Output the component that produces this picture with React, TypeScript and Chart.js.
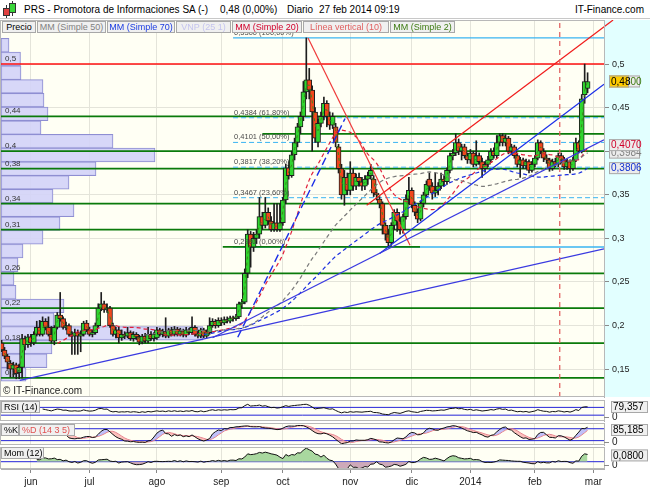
import React, { useEffect, useRef } from "react";
import { Chart, registerables } from "chart.js";

Chart.register(...registerables);

const FONT = '"Liberation Sans", Arial, Helvetica, sans-serif';

// ---------- axes ----------
const monthIdx = [10, 30, 53, 75, 96, 119, 140, 160, 182, 202];
const monthLabels = ["jun", "jul", "ago", "sep", "oct", "nov", "dic", "2014", "feb", "mar"];
const X_MIN = -0.2;
const X_MAX = 205.6;
const priceTicks = [0.15, 0.2, 0.25, 0.3, 0.35, 0.4, 0.45, 0.5];
const Y_MIN = 0.1181;
const Y_MAX = 0.5505;

// ---------- daily candles (trading-day index 0..200) ----------
const opens = [
  0.180, 0.172, 0.165, 0.157, 0.150, 0.155, 0.146, 0.152, 0.185, 0.178,
  0.187, 0.180, 0.190, 0.198, 0.190, 0.205, 0.198, 0.190, 0.182, 0.198,
  0.212, 0.208, 0.198, 0.200, 0.190, 0.188, 0.192, 0.188, 0.190, 0.203,
  0.195, 0.190, 0.192, 0.200, 0.220, 0.225, 0.218, 0.220, 0.200, 0.190,
  0.195, 0.186, 0.190, 0.188, 0.192, 0.185, 0.190, 0.187, 0.181, 0.188,
  0.182, 0.190, 0.185, 0.186, 0.195, 0.190, 0.193, 0.188, 0.195, 0.190,
  0.196, 0.190, 0.194, 0.189, 0.195, 0.192, 0.198, 0.190, 0.188, 0.195,
  0.188, 0.192, 0.200, 0.205, 0.200, 0.206, 0.203, 0.207, 0.205, 0.209,
  0.208, 0.210, 0.225, 0.227, 0.260, 0.305, 0.290, 0.300, 0.305, 0.325,
  0.315, 0.330, 0.320, 0.310, 0.318, 0.310, 0.318, 0.344, 0.381, 0.372,
  0.396, 0.410, 0.428, 0.440, 0.468, 0.482, 0.470, 0.445, 0.410, 0.432,
  0.440, 0.455, 0.440, 0.430, 0.428, 0.405, 0.380, 0.350, 0.370, 0.355,
  0.375, 0.360, 0.370, 0.365, 0.360, 0.368, 0.372, 0.368, 0.352, 0.345,
  0.340, 0.315, 0.305, 0.295, 0.315, 0.330, 0.320, 0.310, 0.325, 0.345,
  0.355, 0.338, 0.330, 0.322, 0.340, 0.350, 0.368, 0.360, 0.352, 0.355,
  0.360, 0.368, 0.365, 0.378, 0.395, 0.398, 0.410, 0.400, 0.405, 0.395,
  0.390, 0.398, 0.385, 0.395, 0.388, 0.380, 0.385, 0.390, 0.400, 0.395,
  0.410, 0.418, 0.410, 0.415, 0.400, 0.405, 0.395, 0.385, 0.390, 0.383,
  0.388, 0.378, 0.385, 0.392, 0.410, 0.400, 0.392, 0.390, 0.380, 0.388,
  0.385, 0.395, 0.390, 0.382, 0.388, 0.380, 0.390, 0.410, 0.400, 0.465,
  0.472,
];
const highs = [
  0.183, 0.175, 0.167, 0.160, 0.158, 0.157, 0.156, 0.190, 0.188, 0.190,
  0.190, 0.193, 0.205, 0.206, 0.210, 0.208, 0.210, 0.199, 0.200, 0.215,
  0.238, 0.210, 0.204, 0.202, 0.193, 0.196, 0.195, 0.194, 0.205, 0.206,
  0.198, 0.195, 0.203, 0.225, 0.238, 0.228, 0.225, 0.222, 0.203, 0.198,
  0.198, 0.195, 0.193, 0.198, 0.194, 0.193, 0.192, 0.189, 0.190, 0.191,
  0.198, 0.193, 0.192, 0.198, 0.197, 0.196, 0.209, 0.197, 0.198, 0.199,
  0.198, 0.197, 0.196, 0.198, 0.197, 0.210, 0.200, 0.193, 0.197, 0.197,
  0.195, 0.209, 0.208, 0.207, 0.209, 0.209, 0.210, 0.210, 0.211, 0.211,
  0.213, 0.227, 0.230, 0.265, 0.310, 0.308, 0.307, 0.310, 0.347, 0.330,
  0.347, 0.335, 0.325, 0.340, 0.340, 0.340, 0.347, 0.385, 0.388, 0.400,
  0.415, 0.432, 0.445, 0.480, 0.530, 0.495, 0.475, 0.450, 0.437, 0.445,
  0.462, 0.458, 0.445, 0.444, 0.432, 0.408, 0.385, 0.378, 0.375, 0.388,
  0.380, 0.374, 0.375, 0.370, 0.372, 0.376, 0.385, 0.372, 0.356, 0.348,
  0.342, 0.318, 0.310, 0.318, 0.333, 0.334, 0.324, 0.328, 0.350, 0.370,
  0.358, 0.342, 0.334, 0.343, 0.353, 0.366, 0.375, 0.364, 0.375, 0.364,
  0.375, 0.372, 0.381, 0.398, 0.402, 0.420, 0.414, 0.408, 0.408, 0.398,
  0.402, 0.400, 0.412, 0.398, 0.392, 0.388, 0.394, 0.403, 0.404, 0.418,
  0.420, 0.420, 0.419, 0.417, 0.408, 0.407, 0.398, 0.393, 0.392, 0.391,
  0.390, 0.388, 0.395, 0.413, 0.412, 0.403, 0.396, 0.392, 0.391, 0.392,
  0.398, 0.398, 0.393, 0.391, 0.390, 0.393, 0.415, 0.412, 0.465, 0.500,
  0.490,
];
const lows = [
  0.170, 0.162, 0.150, 0.141, 0.141, 0.139, 0.139, 0.140, 0.172, 0.175,
  0.176, 0.178, 0.188, 0.188, 0.188, 0.195, 0.188, 0.180, 0.178, 0.196,
  0.205, 0.196, 0.195, 0.188, 0.167, 0.167, 0.167, 0.170, 0.188, 0.193,
  0.188, 0.187, 0.190, 0.198, 0.217, 0.215, 0.215, 0.198, 0.188, 0.186,
  0.180, 0.183, 0.185, 0.186, 0.183, 0.182, 0.184, 0.178, 0.179, 0.180,
  0.180, 0.183, 0.182, 0.184, 0.188, 0.187, 0.186, 0.186, 0.188, 0.188,
  0.188, 0.188, 0.187, 0.187, 0.190, 0.190, 0.188, 0.186, 0.186, 0.186,
  0.186, 0.190, 0.198, 0.197, 0.198, 0.200, 0.201, 0.203, 0.203, 0.205,
  0.206, 0.208, 0.220, 0.225, 0.255, 0.267, 0.285, 0.294, 0.300, 0.310,
  0.312, 0.316, 0.308, 0.308, 0.308, 0.308, 0.315, 0.340, 0.368, 0.370,
  0.390, 0.405, 0.420, 0.435, 0.460, 0.460, 0.400, 0.410, 0.405, 0.428,
  0.436, 0.428, 0.425, 0.426, 0.405, 0.375, 0.345, 0.338, 0.350, 0.350,
  0.355, 0.356, 0.360, 0.355, 0.356, 0.362, 0.368, 0.348, 0.344, 0.335,
  0.305, 0.298, 0.2902, 0.292, 0.310, 0.308, 0.305, 0.306, 0.322, 0.340,
  0.335, 0.326, 0.318, 0.320, 0.336, 0.348, 0.355, 0.345, 0.348, 0.350,
  0.357, 0.360, 0.362, 0.375, 0.390, 0.395, 0.396, 0.390, 0.392, 0.386,
  0.386, 0.382, 0.383, 0.385, 0.370, 0.376, 0.382, 0.387, 0.392, 0.392,
  0.406, 0.406, 0.406, 0.397, 0.396, 0.392, 0.382, 0.370, 0.380, 0.380,
  0.375, 0.376, 0.382, 0.390, 0.397, 0.388, 0.386, 0.377, 0.378, 0.382,
  0.382, 0.386, 0.379, 0.379, 0.375, 0.378, 0.388, 0.398, 0.398, 0.455,
  0.467,
];
const closes = [
  0.172, 0.165, 0.158, 0.150, 0.155, 0.145, 0.152, 0.185, 0.178, 0.187,
  0.180, 0.190, 0.198, 0.190, 0.205, 0.198, 0.190, 0.182, 0.198, 0.212,
  0.208, 0.198, 0.200, 0.190, 0.188, 0.192, 0.188, 0.190, 0.203, 0.195,
  0.190, 0.192, 0.200, 0.220, 0.225, 0.218, 0.220, 0.200, 0.190, 0.195,
  0.186, 0.190, 0.188, 0.192, 0.185, 0.190, 0.187, 0.181, 0.188, 0.182,
  0.190, 0.185, 0.190, 0.195, 0.190, 0.193, 0.188, 0.195, 0.190, 0.196,
  0.190, 0.194, 0.189, 0.195, 0.192, 0.198, 0.190, 0.188, 0.195, 0.188,
  0.192, 0.200, 0.205, 0.200, 0.206, 0.203, 0.207, 0.205, 0.209, 0.208,
  0.210, 0.225, 0.227, 0.260, 0.305, 0.290, 0.300, 0.305, 0.325, 0.315,
  0.330, 0.320, 0.310, 0.318, 0.310, 0.318, 0.344, 0.381, 0.372, 0.396,
  0.410, 0.428, 0.440, 0.468, 0.482, 0.470, 0.445, 0.415, 0.432, 0.440,
  0.455, 0.440, 0.430, 0.440, 0.410, 0.380, 0.350, 0.370, 0.355, 0.375,
  0.360, 0.370, 0.365, 0.360, 0.368, 0.372, 0.378, 0.352, 0.350, 0.340,
  0.315, 0.305, 0.295, 0.315, 0.330, 0.320, 0.310, 0.325, 0.345, 0.355,
  0.338, 0.330, 0.322, 0.340, 0.350, 0.362, 0.360, 0.352, 0.355, 0.360,
  0.368, 0.365, 0.378, 0.395, 0.398, 0.410, 0.400, 0.405, 0.395, 0.390,
  0.398, 0.385, 0.395, 0.388, 0.380, 0.385, 0.390, 0.400, 0.395, 0.410,
  0.418, 0.410, 0.415, 0.400, 0.405, 0.395, 0.385, 0.390, 0.383, 0.388,
  0.378, 0.385, 0.392, 0.410, 0.400, 0.392, 0.390, 0.380, 0.388, 0.385,
  0.395, 0.390, 0.382, 0.388, 0.380, 0.390, 0.410, 0.400, 0.460, 0.480,
  0.480,
];

// ---------- volume by price (VNP 25 1) ----------
const vnpPrices = [
  0.5215, 0.5058, 0.49, 0.4743, 0.4586, 0.4429, 0.4271, 0.4114, 0.3957, 0.3799,
  0.3642, 0.3485, 0.3327, 0.317, 0.3013, 0.2855, 0.2698, 0.2541, 0.2383, 0.2226,
  0.2069, 0.1911, 0.1754, 0.1597, 0.144,
];
const vnpVolumes = [
  8, 19.5, 20, 42, 43, 47, 40, 112, 154, 95,
  68, 52, 73, 59, 42, 22, 17, 13, 15, 63,
  53, 202, 51, 46, 25,
];

// ---------- horizontal levels ----------
const greenLevels = [0.44, 0.4, 0.38, 0.34, 0.31, 0.26, 0.22, 0.18, 0.14];
const greenLabels = ["0,44", "0,4", "0,38", "0,34", "0,31", "0,26", "0,22", "0,18", "0,14"];
const redLevel = 0.5;
const redLabel = "0,5";
const partialLevel = 0.42;
const partialFrom = 89;
const fibStart = 79;
const fibLevels = [0.53, 0.4384, 0.4101, 0.3817, 0.3467, 0.2902];
const fibLabels = ["0,5300 (100,00%)", "0,4384 (61,80%)", "0,4101 (50,00%)", "0,3817 (38,20%)", "0,3467 (23,60%)", "0,2902 (0,00%)"];
const fibZeroGreen = [75.5, 142.8];

// ---------- trend lines [x1, y1, x2, y2] ----------
const blueTrendLong = [6.2, 0.1372, 205.6, 0.2881];
const blueTrendMid = [72, 0.186, 205.6, 0.413];
const blueTrendSteep = [129, 0.2826, 205.6, 0.4769];
const blueTrendDashed = [80.6, 0.1866, 117.2, 0.4374];
const redTrendDown = [104.6, 0.5298, 139.4, 0.2922];
const redTrendUp = [124.6, 0.3381, 208.7, 0.5505];
const verticalLineIdx = 190.5;

// ---------- right-hand value labels ----------
const priceLabelValues = [0.48, 0.48, 0.3984, 0.407, 0.3806];
const priceLabelTexts = ["0,4800", "0,48", "0,3984", "0,4070", "0,3806"];
const priceLabelColors = ["#3c7a10", "#000000", "#808080", "#d0002a", "#1030d0"];
const priceLabelBgs = ["#ececec", "#ffcc00", "#ececec", "#ececec", "#ececec"];
const priceLabelWidths = [31, 20, 31, 31, 31];
const rsiValueText = "79,357";
const stochValueText = "85,185";
const momValueText = "0,0800";
const panelZeroLabel = "0";

// ---------- helpers ----------
function sma(src: (number | null)[], n: number): (number | null)[] {
  return src.map((_, i) => {
    if (i < n - 1) return null;
    let s = 0;
    for (let j = i - n + 1; j <= i; j++) {
      const v = src[j];
      if (v == null) return null;
      s += v;
    }
    return s / n;
  });
}
function rsi(c: number[], n: number): (number | null)[] {
  const out: (number | null)[] = c.map(() => null);
  let g = 0, l = 0;
  for (let i = 1; i <= n; i++) {
    const d = c[i] - c[i - 1];
    if (d > 0) g += d; else l -= d;
  }
  g /= n; l /= n;
  out[n] = l === 0 ? 100 : 100 - 100 / (1 + g / l);
  for (let i = n + 1; i < c.length; i++) {
    const d = c[i] - c[i - 1];
    g = (g * (n - 1) + Math.max(d, 0)) / n;
    l = (l * (n - 1) + Math.max(-d, 0)) / n;
    out[i] = l === 0 ? 100 : 100 - 100 / (1 + g / l);
  }
  return out;
}
function stochRaw(c: number[], h: number[], l: number[], n: number): (number | null)[] {
  return c.map((v, i) => {
    if (i < n - 1) return null;
    let hh = -Infinity, ll = Infinity;
    for (let j = i - n + 1; j <= i; j++) { hh = Math.max(hh, h[j]); ll = Math.min(ll, l[j]); }
    return hh === ll ? 50 : (100 * (v - ll)) / (hh - ll);
  });
}
function pts(arr: (number | null)[], from = 0) {
  const out: { x: number; y: number }[] = [];
  arr.forEach((v, i) => { if (v != null && i >= from) out.push({ x: i, y: v }); });
  return out;
}
function seg(a: number[]) {
  return [{ x: a[0], y: a[1] }, { x: a[2], y: a[3] }];
}
function lineDs(data: any[], color: string, width: number, dash: number[], order: number, extra: any = {}) {
  return {
    type: "line", data, borderColor: color, borderWidth: width, borderDash: dash,
    pointRadius: 0, fill: false, tension: 0, order, ...extra,
  };
}
function fmtComma(v: number) { return String(v).replace(".", ","); }

function drawBox(ctx: CanvasRenderingContext2D, x: number, cy: number, w: number, text: string, color: string, bg: string) {
  const h = 12;
  ctx.fillStyle = bg;
  ctx.fillRect(x, cy - h / 2, w, h);
  ctx.strokeStyle = "#a8a8a8";
  ctx.lineWidth = 1;
  ctx.strokeRect(x + 0.5, cy - h / 2 + 0.5, w - 1, h - 1);
  ctx.fillStyle = color;
  ctx.font = `10px ${FONT}`;
  ctx.textAlign = "left";
  ctx.textBaseline = "middle";
  ctx.fillText(text, x + 2, cy + 0.5);
}

const noPadY = (s: any) => { s.width = 46; s.paddingTop = 0; s.paddingBottom = 0; };

const xScaleBase = (showLabels: boolean) => ({
  type: "linear",
  min: X_MIN,
  max: X_MAX,
  offset: false,
  afterBuildTicks: (s: any) => { s.ticks = monthIdx.map((v) => ({ value: v })); },
  afterFit: (s: any) => { s.height = showLabels ? 21 : 0; s.paddingLeft = 0; s.paddingRight = 0; },
  ticks: {
    display: showLabels,
    autoSkip: false,
    maxRotation: 0,
    padding: 3,
    color: "#222",
    font: { size: 10 },
    callback: (v: number) => monthLabels[monthIdx.indexOf(v)] ?? "",
  },
  grid: { color: "#e4e4da", drawTicks: showLabels, tickLength: 4, tickColor: "#888", offset: false },
  border: { display: showLabels, color: "#b0b0b0" },
});

export default function App() {
  const mainRef = useRef<HTMLCanvasElement>(null);
  const rsiRef = useRef<HTMLCanvasElement>(null);
  const stoRef = useRef<HTMLCanvasElement>(null);
  const momRef = useRef<HTMLCanvasElement>(null);

  useEffect(() => {
    document.body.style.margin = "0";
    document.body.style.background = "#ffffff";
    Chart.defaults.font.family = FONT;
    const charts: Chart[] = [];

    // ---------- main price chart ----------
    const idx = closes.map((_, i) => i);
    const wicks = idx.map((i) => ({ x: i, y: [lows[i], highs[i]] }));
    const bodies = idx.map((i) => ({ x: i, y: [opens[i], closes[i]] }));
    const bodyColors = idx.map((i) => (closes[i] >= opens[i] ? "#2fd62f" : "#f2461c"));
    const vnp = vnpPrices.map((p, k) => ({ x: vnpVolumes[k], y: p }));

    const datasets: any[] = [];
    datasets.push({
      type: "bar", indexAxis: "y", xAxisID: "xVol", yAxisID: "y", data: vnp,
      backgroundColor: "rgba(212,212,247,0.92)", borderColor: "#8e8ed2", borderWidth: 1,
      borderSkipped: false, barThickness: 13.7, grouped: false, order: 100,
    });
    greenLevels.forEach((lv) => datasets.push(lineDs(seg([X_MIN, lv, X_MAX, lv]), "#0a7a0a", 1.7, [], 60)));
    datasets.push(lineDs(seg([partialFrom, partialLevel, X_MAX, partialLevel]), "#0a7a0a", 1.7, [], 60));
    datasets.push(lineDs(seg([X_MIN, redLevel, X_MAX, redLevel]), "#ff1010", 1.4, [], 60));
    fibLevels.forEach((lv, k) => {
      const solid = k === 0 || k === fibLevels.length - 1;
      datasets.push(lineDs(seg([fibStart, lv, X_MAX, lv]), "#3ab4f2", solid ? 1.4 : 1, solid ? [] : [5, 3], 59));
    });
    datasets.push(lineDs(seg([fibZeroGreen[0], 0.2902, fibZeroGreen[1], 0.2902]), "#0a7a0a", 1.7, [], 58));
    datasets.push({
      type: "bar", xAxisID: "x", yAxisID: "y", data: wicks, backgroundColor: "#1e1e1e",
      borderWidth: 0, barThickness: 1, grouped: false, order: 45,
    });
    datasets.push({
      type: "bar", xAxisID: "x", yAxisID: "y", data: bodies, backgroundColor: bodyColors,
      borderColor: "#1e1e1e", borderWidth: 1, borderSkipped: false, barThickness: 5, grouped: false, order: 44,
    });
    datasets.push(lineDs(pts(sma(closes, 50)), "#7a7a7a", 1.2, [4, 3], 30));
    datasets.push(lineDs(pts(sma(closes, 70)), "#1a2ee0", 1.2, [4, 3], 30));
    datasets.push(lineDs(pts(sma(closes, 20)), "#e0203a", 1.2, [4, 3], 30));
    datasets.push(lineDs(pts(sma(closes, 2)), "#3c8a1a", 1, [3, 3], 29));
    datasets.push(lineDs(seg(blueTrendLong), "#3a3ae0", 1.2, [], 20));
    datasets.push(lineDs(seg(blueTrendMid), "#3a3ae0", 1.2, [], 20));
    datasets.push(lineDs(seg(blueTrendSteep), "#1a2ee8", 1.2, [], 20));
    datasets.push(lineDs(seg(blueTrendDashed), "#1a2ee8", 1.4, [8, 4], 20));
    datasets.push(lineDs(seg(redTrendDown), "#f03a3a", 1.2, [], 20));
    datasets.push(lineDs(seg(redTrendUp), "#f01a1a", 1.2, [], 20, { clip: { left: 0, top: 0, right: 12, bottom: 0 } }));
    datasets.push(lineDs(seg([verticalLineIdx, Y_MIN, verticalLineIdx, Y_MAX]), "#e05a5a", 1.2, [5, 4], 10));

    const mainDecor = {
      id: "mainDecor",
      beforeDraw(chart: any) {
        const { ctx, chartArea: a, width } = chart;
        ctx.save();
        ctx.fillStyle = "#fffff4";
        ctx.fillRect(a.left, a.top, a.right - a.left, a.bottom - a.top);
        ctx.fillStyle = "#e2ffff";
        ctx.fillRect(a.right, a.top, width - a.right, a.bottom - a.top);
        ctx.restore();
      },
      afterDatasetsDraw(chart: any) {
        const { ctx, chartArea: a, scales } = chart;
        const y = scales.y, x = scales.x;
        ctx.save();
        ctx.textAlign = "left";
        ctx.textBaseline = "alphabetic";
        ctx.font = `8px ${FONT}`;
        ctx.fillStyle = "#333";
        greenLevels.forEach((lv, k) => ctx.fillText(greenLabels[k], a.left + 4, y.getPixelForValue(lv) - 3));
        ctx.fillText(redLabel, a.left + 4, y.getPixelForValue(redLevel) - 3);
        ctx.font = `7.5px ${FONT}`;
        ctx.fillStyle = "#4a4a4a";
        const fx = x.getPixelForValue(fibStart) + 1;
        fibLevels.forEach((lv, k) => ctx.fillText(fibLabels[k], fx, y.getPixelForValue(lv) - 3));
        ctx.restore();
      },
      afterDraw(chart: any) {
        const { ctx, chartArea: a, scales } = chart;
        ctx.save();
        ctx.strokeStyle = "#b8b8b8";
        ctx.lineWidth = 1;
        ctx.strokeRect(a.left - 0.5, a.top + 0.5, a.right - a.left + 1, a.bottom - a.top - 1);
        const order = [2, 3, 4, 0, 1];
        order.forEach((k) => {
          drawBox(ctx, a.right + 5, scales.y.getPixelForValue(priceLabelValues[k]), priceLabelWidths[k],
            priceLabelTexts[k], priceLabelColors[k], priceLabelBgs[k]);
        });
        ctx.restore();
      },
    };

    charts.push(new Chart(mainRef.current as HTMLCanvasElement, {
      type: "line",
      data: { datasets },
      options: {
        responsive: false,
        animation: false,
        devicePixelRatio: 1,
        events: [],
        layout: { padding: { left: 1, top: 0, right: 0, bottom: 1 } },
        plugins: { legend: { display: false }, tooltip: { enabled: false } },
        scales: {
          x: xScaleBase(false) as any,
          xVol: { type: "linear", min: 0, max: 603, display: false, offset: false },
          y: {
            type: "linear", position: "right", min: Y_MIN, max: Y_MAX, offset: false,
            afterBuildTicks: (s: any) => { s.ticks = priceTicks.map((v) => ({ value: v })); },
            afterFit: noPadY,
            ticks: { color: "#222", font: { size: 9 }, padding: 3, callback: (v: any) => fmtComma(v) },
            grid: { color: "#e4e4da", tickLength: 5, tickColor: "#8a8a8a", offset: false },
            border: { color: "#b0b0b0" },
          },
        },
      } as any,
      plugins: [mainDecor],
    } as any));

    // ---------- sub panels ----------
    const makePanel = (
      canvas: HTMLCanvasElement, ds: any[], yMin: number, yMax: number,
      padTop: number, padBottom: number, showX: boolean, zeroShift: number,
      valueY: number, valueText: string,
    ) => {
      const decor = {
        id: "panelDecor",
        beforeDraw(chart: any) {
          const { ctx, chartArea: a } = chart;
          ctx.save();
          ctx.fillStyle = "#fffff4";
          ctx.fillRect(a.left, a.top, a.right - a.left, a.bottom - a.top);
          ctx.restore();
        },
        afterDraw(chart: any) {
          const { ctx, chartArea: a, scales } = chart;
          ctx.save();
          ctx.strokeStyle = "#b8b8b8";
          ctx.lineWidth = 1;
          ctx.strokeRect(a.left - 0.5, a.top + 0.5, a.right - a.left + 1, a.bottom - a.top - 1);
          // zero tick mark + label
          const y0 = Math.round(scales.y.getPixelForValue(0) + zeroShift);
          ctx.strokeStyle = "#8a8a8a";
          ctx.beginPath();
          ctx.moveTo(a.right, y0 + 0.5);
          ctx.lineTo(a.right + 5, y0 + 0.5);
          ctx.stroke();
          ctx.fillStyle = "#222";
          ctx.font = `10px ${FONT}`;
          ctx.textAlign = "left";
          ctx.textBaseline = "middle";
          ctx.fillText(panelZeroLabel, a.right + 8, y0 + 0.5);
          let cy = scales.y.getPixelForValue(valueY);
          cy = Math.max(a.top + 7, Math.min(a.bottom - 8, cy));
          drawBox(ctx, a.right + 7, cy, 37, valueText, "#000", "#f0f0f0");
          ctx.restore();
        },
      };
      return new Chart(canvas, {
        type: "line",
        data: { datasets: ds },
        options: {
          responsive: false,
          animation: false,
          devicePixelRatio: 1,
          events: [],
          layout: { padding: { left: 1, top: padTop, right: 0, bottom: padBottom } },
          plugins: { legend: { display: false }, tooltip: { enabled: false } },
          scales: {
            x: xScaleBase(showX) as any,
            y: {
              type: "linear", position: "right", min: yMin, max: yMax, offset: false,
              afterFit: noPadY,
              ticks: { display: false },
              grid: { display: false },
              border: { color: "#b0b0b0" },
            },
          },
        } as any,
        plugins: [decor],
      } as any);
    };

    const blue = "#2424d8";
    const rsiVals = rsi(closes, 14);
    charts.push(makePanel(rsiRef.current as HTMLCanvasElement, [
      lineDs(seg([X_MIN, 70, X_MAX, 70]), blue, 1, [], 5),
      lineDs(seg([X_MIN, 30, X_MAX, 30]), blue, 1, [], 5),
      lineDs(pts(rsiVals), "#111", 1, [], 1),
    ], 0, 108, 4, 5, false, -4, 79.357, rsiValueText));

    const kVals = sma(stochRaw(closes, highs, lows, 14), 3);
    const dVals = sma(kVals, 5);
    const startSD = dVals.findIndex((v) => v != null);
    charts.push(makePanel(stoRef.current as HTMLCanvasElement, [
      lineDs(pts(kVals, startSD), "#111", 1, [], 1, {
        fill: { target: 1, above: "rgba(150,150,250,0.6)", below: "rgba(250,150,150,0.6)" },
      }),
      lineDs(pts(dVals, startSD), "#f08080", 1, [], 2),
      lineDs(seg([X_MIN, 80, X_MAX, 80]), blue, 1, [], 5),
      lineDs(seg([X_MIN, 20, X_MAX, 20]), blue, 1, [], 5),
    ], -2, 109, 4, 4, false, -3, 85.185, stochValueText));

    const momVals = closes.map((v, i) => (i >= 12 ? v - closes[i - 12] : null));
    charts.push(makePanel(momRef.current as HTMLCanvasElement, [
      lineDs(pts(momVals), "#111", 1, [], 1, {
        fill: { target: { value: 0 }, above: "rgba(160,212,150,0.9)", below: "rgba(200,160,178,0.9)" },
      }),
      lineDs(seg([X_MIN, 0, X_MAX, 0]), blue, 1, [], 5),
    ], -0.093, 0.187, 4, 0, true, 3, 0.08, momValueText));

    return () => charts.forEach((c) => c.destroy());
  }, []);

  const legend = [
    { t: "Precio", l: 2, w: 34, c: "#000" },
    { t: "MM (Simple 50)", l: 37, w: 69, c: "#808080" },
    { t: "MM (Simple 70)", l: 107, w: 68, c: "#1a3ae0" },
    { t: "VNP (25 1)", l: 176, w: 55, c: "#c4c4ee" },
    { t: "MM (Simple 20)", l: 232, w: 70, c: "#d0002a" },
    { t: "Línea vertical (10)", l: 303, w: 86, c: "#e06060" },
    { t: "MM (Simple 2)", l: 390, w: 65, c: "#3c7a10" },
  ];
  const boxStyle: React.CSSProperties = {
    position: "absolute", background: "#f0f0f0", border: "1px solid #a8a8a8",
    boxSizing: "border-box", fontSize: 9, lineHeight: "11px", whiteSpace: "nowrap",
    textAlign: "center", overflow: "hidden",
  };

  return (
    <div style={{ position: "relative", width: 650, height: 490, overflow: "hidden", background: "#fff", fontFamily: FONT, color: "#000" }}>
      {/* header */}
      <div style={{ position: "absolute", left: 0, top: 0, width: 650, height: 19, background: "#fff", borderBottom: "1px solid #c8c8c8", boxSizing: "border-box" }} />
      <div style={{ position: "absolute", left: 6, top: 5, width: 1, height: 13, background: "#333" }} />
      <div style={{ position: "absolute", left: 3, top: 8, width: 7, height: 8, background: "#e04040", border: "1px solid #333", boxSizing: "border-box" }} />
      <div style={{ position: "absolute", left: 12, top: 1, width: 1, height: 15, background: "#333" }} />
      <div style={{ position: "absolute", left: 9, top: 3, width: 7, height: 10, background: "#3ad63a", border: "1px solid #333", boxSizing: "border-box" }} />
      <div style={{ position: "absolute", left: 24, top: 3, fontSize: 10, lineHeight: "13px", whiteSpace: "nowrap" }}>PRS - Promotora de Informaciones SA (-)</div>
      <div style={{ position: "absolute", left: 220, top: 3, fontSize: 10, lineHeight: "13px", whiteSpace: "nowrap" }}>0,48 (0,00%)</div>
      <div style={{ position: "absolute", left: 287, top: 3, fontSize: 10, lineHeight: "13px", whiteSpace: "nowrap" }}>Diario</div>
      <div style={{ position: "absolute", left: 319, top: 3, fontSize: 10, lineHeight: "13px", whiteSpace: "nowrap" }}>27 feb 2014 09:19</div>
      <div style={{ position: "absolute", right: 6, top: 3, fontSize: 10, lineHeight: "13px", whiteSpace: "nowrap" }}>IT-Finance.com</div>

      <canvas ref={mainRef} width={650} height={378} style={{ position: "absolute", left: 0, top: 20 }} />
      <canvas ref={rsiRef} width={650} height={30} style={{ position: "absolute", left: 0, top: 396 }} />
      <canvas ref={stoRef} width={650} height={30} style={{ position: "absolute", left: 0, top: 419 }} />
      <canvas ref={momRef} width={650} height={47} style={{ position: "absolute", left: 0, top: 443 }} />

      {/* legend */}
      {legend.map((g) => (
        <div key={g.t} style={{ ...boxStyle, left: g.l, top: 21, width: g.w, height: 12, color: g.c }}>{g.t}</div>
      ))}

      <div style={{ position: "absolute", left: 3, top: 385, fontSize: 10, lineHeight: "12px", color: "#222", whiteSpace: "nowrap" }}>© IT-Finance.com</div>

      {/* panel labels */}
      <div style={{ ...boxStyle, left: 1, top: 401, width: 39, height: 12, color: "#000", textAlign: "left", paddingLeft: 2 }}>RSI (14)</div>
      <div style={{ ...boxStyle, left: 1, top: 424, width: 18, height: 12, color: "#000", textAlign: "left", paddingLeft: 2 }}>%K</div>
      <div style={{ ...boxStyle, left: 19, top: 424, width: 56, height: 12, color: "#e05050", textAlign: "left", paddingLeft: 2 }}>%D (14 3 5)</div>
      <div style={{ ...boxStyle, left: 1, top: 447, width: 43, height: 12, color: "#000", textAlign: "left", paddingLeft: 2 }}>Mom (12)</div>
    </div>
  );
}
